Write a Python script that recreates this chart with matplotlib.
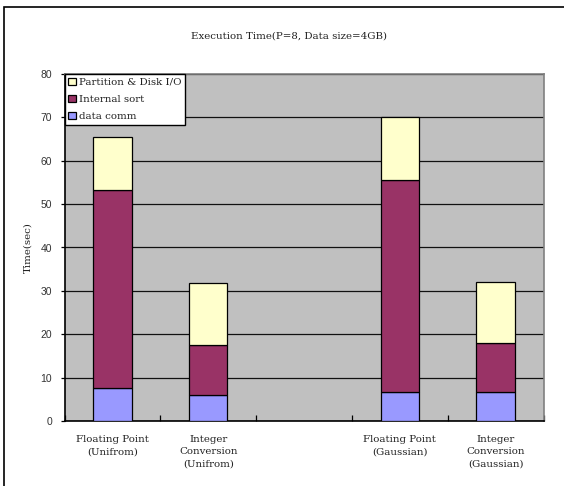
import matplotlib
matplotlib.use("Agg")
import matplotlib.pyplot as plt
from matplotlib.patches import Rectangle
import numpy as np

categories = [
    "Floating Point\n(Unifrom)",
    "Integer\nConversion\n(Unifrom)",
    "",
    "Floating Point\n(Gaussian)",
    "Integer\nConversion\n(Gaussian)",
]
data_comm = [7.5, 6.1, 0.0, 6.6, 6.6]
internal_sort = [45.8, 11.4, 0.0, 48.9, 11.3]
partition_io = [12.2, 14.3, 0.0, 14.5, 14.1]

series_names = ["data comm", "Internal sort", "Partition & Disk I/O"]
series_colors = ["#9999FF", "#993366", "#FFFFCC"]
yticks = [0, 10, 20, 30, 40, 50, 60, 70, 80]

serif = "DejaVu Serif"
sans = "Liberation Sans"
text_color = "#222222"
fs = 7.4

fig = plt.figure(figsize=(5.64, 4.86), dpi=100)
fig.patch.set_facecolor("white")

# outer chart border (left and top edges visible)
fig.patches.append(Rectangle((4 / 564, -0.1), 1.2, (486 - 7) / 486 + 0.1,
                             transform=fig.transFigure, fill=False,
                             edgecolor="black", linewidth=1.2, zorder=10))

ax = fig.add_axes([64.5 / 564, (486 - 421) / 486, 479 / 564, 347 / 486])
ax.set_facecolor("#C0C0C0")

x = np.arange(len(categories))
width = 0.4
bottoms = np.zeros(len(categories))
handles = []
for name, vals, col in zip(series_names, [data_comm, internal_sort, partition_io], series_colors):
    vals = np.array(vals)
    mask = vals > 0
    b = ax.bar(x[mask], vals[mask], width, bottom=bottoms[mask], color=col,
               edgecolor="black", linewidth=0.9, label=name, zorder=3)
    handles.append(b)
    bottoms += vals

ax.set_xlim(-0.5, len(categories) - 0.5)
ax.set_ylim(0, 80)
ax.set_yticks(yticks)
ax.set_yticklabels([str(v) for v in yticks], fontfamily=sans, fontsize=7.5, color="#333333")
ax.yaxis.grid(True, color="#111111", linewidth=0.9, zorder=1)
ax.set_axisbelow(True)

ax.set_xticks(x)
ax.set_xticklabels(categories, fontfamily=serif, fontsize=fs, linespacing=1.5,
                   color=text_color)
ax.tick_params(axis="x", length=0, pad=10)
ax.set_xticks(np.arange(len(categories) + 1) - 0.5, minor=True)
ax.tick_params(axis="x", which="minor", direction="in", length=4, width=0.9)
ax.tick_params(axis="y", length=3, width=0.9, pad=6)

for side in ["top", "right"]:
    ax.spines[side].set_color("#808080")
    ax.spines[side].set_linewidth(1.2)
for side in ["left", "bottom"]:
    ax.spines[side].set_color("black")
    ax.spines[side].set_linewidth(1.2)

ax.set_ylabel("Time(sec)", fontfamily=serif, fontsize=fs, labelpad=6, color=text_color)

fig.text(289 / 564, 1 - 36 / 486, "Execution Time(P=8, Data size=4GB)",
         ha="center", va="center", fontfamily=serif, fontsize=fs, color=text_color)

leg = ax.legend(handles[::-1], series_names[::-1], loc="upper left",
                bbox_to_anchor=(0.0, 1.0), prop={"family": serif, "size": fs},
                frameon=True, fancybox=False, framealpha=1, edgecolor="black",
                handlelength=0.75, handleheight=0.75, handletextpad=0.3,
                borderpad=0.35, labelspacing=0.75, borderaxespad=0)
for t in leg.get_texts():
    t.set_color(text_color)
leg.get_frame().set_linewidth(1.0)
leg.set_zorder(5)

fig.savefig("out.png", dpi=100)
